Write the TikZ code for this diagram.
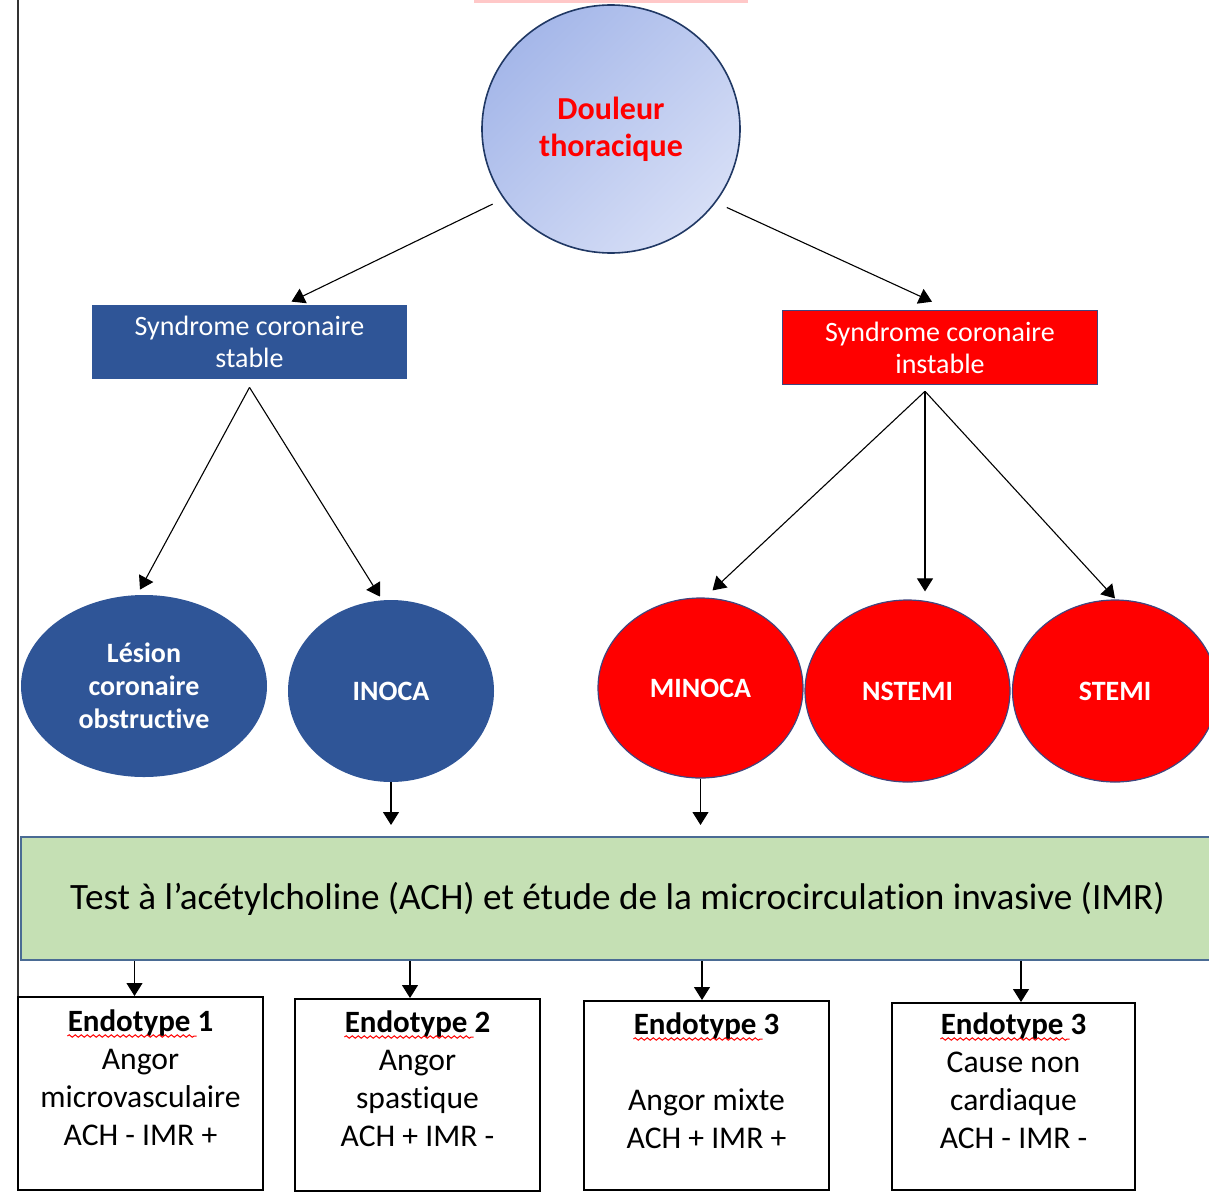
\documentclass[tikz,border=0pt]{standalone}
\usepackage{fontspec}
\setmainfont{Carlito}[Ligatures=NoCommon]
\usetikzlibrary{arrows.meta,positioning,shapes.geometric,decorations.pathmorphing}
\definecolor{sblue}{HTML}{2F5597}
\definecolor{sred}{HTML}{FF0000}
\definecolor{sgreen}{HTML}{C5E0B4}
\definecolor{sgreenline}{HTML}{4A6B94}
\definecolor{circline}{HTML}{203864}
\definecolor{redline}{HTML}{40457E}
\definecolor{lightblue}{HTML}{A5B7E9}
\definecolor{paleblue}{HTML}{D6DEF6}
\definecolor{pinkline}{HTML}{FFC8C8}

\begin{document}
\begin{tikzpicture}[x=0.5pt,y=-0.5pt,
  arr/.style={line width=0.55pt,-{Triangle[width=8pt,length=6.5pt]}},
  circ/.style={shape=ellipse,inner sep=0pt,align=center,text=white,font=\fontsize{14}{16.5}\selectfont\bfseries},
  synbox/.style={minimum width=157.5pt,minimum height=37pt,inner sep=0pt,align=center,text=white,font=\fontsize{14}{16}\selectfont},
  endobox/.style={draw=black,line width=1pt,minimum width=122.5pt,inner sep=0pt},
  endotitle/.style={anchor=base,inner sep=0pt,font=\fontsize{15.5}{19}\selectfont\bfseries},
  endotext/.style={inner sep=0pt,align=center,font=\fontsize{15.8}{19}\selectfont},
  wavy/.style={draw=red,line width=0.5pt,decorate,decoration={snake,amplitude=0.6pt,segment length=3pt}}]
\useasboundingbox (0,0) rectangle (1209,1194);
\draw[line width=0.75pt,black!80] (18,0) -- (18,997);
\draw[line width=2.5pt,pinkline] (474,0) -- (748,0);

\node[shape=ellipse,draw=circline,line width=0.8pt,shading=axis,top color=lightblue,bottom color=paleblue,shading angle=45,minimum width=129pt,minimum height=124pt,inner sep=0pt,align=center,text=sred,font=\fontsize{16}{18.5}\selectfont\bfseries] (douleur) at (611,129) {Douleur\\thoracique};

\node[synbox,fill=sblue] (stable) at (249.5,342) {Syndrome coronaire\\stable};
\node[synbox,fill=sred,draw=redline,line width=0.8pt] (instable) at (940,347.5) {Syndrome coronaire\\instable};

\node[circ,fill=sblue,minimum width=123pt,minimum height=91pt] (lesion) at (144,686) {Lésion\\coronaire\\obstructive};
\node[circ,fill=sblue,minimum width=103pt,minimum height=91pt] (inoca) at (391,691) {INOCA};
\node[circ,fill=sred,draw=redline,line width=0.6pt,minimum width=102.5pt,minimum height=90pt] (minoca) at (700.5,688) {MINOCA};
\node[circ,fill=sred,draw=redline,line width=0.6pt,minimum width=102.5pt,minimum height=91pt] (nstemi) at (907.5,691) {NSTEMI};
\node[circ,fill=sred,draw=redline,line width=0.6pt,minimum width=102.5pt,minimum height=91pt] (stemi) at (1115,691) {STEMI};

\node[fill=sgreen,draw=sgreenline,line width=1pt,minimum width=596.5pt,minimum height=61.5pt,inner sep=0pt,font=\fontsize{18.6}{22}\selectfont] (test) at (617.5,898.5) {Test à l’acétylcholine (ACH) et étude de la microcirculation invasive (IMR)};

\draw[arr,shorten <=6pt] (douleur.213) -- ([xshift=21pt,yshift=1.5pt]stable.north);
\draw[arr,shorten <=6pt] (douleur.325) -- ([xshift=-4pt,yshift=4pt]instable.north);
\draw[arr] ([yshift=-4pt]stable.south) -- ([xshift=-2pt,yshift=2.5pt]lesion.north);
\draw[arr] ([yshift=-4pt]stable.south) -- ([xshift=-5.5pt,yshift=1.5pt]inoca.north);
\draw[arr] ([xshift=-7.5pt,yshift=-3pt]instable.south) -- ([xshift=6pt,yshift=3.5pt]minoca.north);
\draw[arr] ([xshift=-7.5pt,yshift=-3pt]instable.south) -- ([xshift=8.75pt,yshift=4pt]nstemi.north);
\draw[arr] ([xshift=-7.5pt,yshift=-3pt]instable.south) -- ([yshift=0.5pt]stemi.north);
\draw[arr] (inoca.south) -- ([yshift=5.5pt]inoca.south |- test.north);
\draw[arr] (minoca.south) -- ([yshift=5.5pt]minoca.south |- test.north);

\node[endobox,minimum height=96.5pt] (e1) at (140.5,1093.5) {};
\node[endobox,minimum height=96pt] (e2) at (417.5,1095) {};
\node[endobox,minimum height=94.5pt] (e3) at (706.5,1095.5) {};
\node[endobox,minimum width=121.5pt,minimum height=93.5pt] (e4) at (1013.5,1096.5) {};

\node[endotitle] (t1) at ([yshift=-17.5pt]e1.north) {Endotype 1};
\node[endotext,below=5.7pt of t1.base] (b1) {\strut Angor\\microvasculaire\\ACH - IMR +};
\node[endotitle] (t2) at ([yshift=-17pt]e2.north) {Endotype 2};
\node[endotext,below=5.7pt of t2.base] (b2) {\strut Angor\\spastique\\ACH + IMR -};
\node[endotitle] (t3) at ([yshift=-17pt]e3.north) {Endotype 3};
\node[endotext,below=5.7pt of t3.base] (b3) {\strut\\Angor mixte\\ACH + IMR +};
\node[endotitle] (t4) at ([yshift=-16pt]e4.north) {Endotype 3};
\node[endotext,below=5.7pt of t4.base] (b4) {\strut Cause non\\cardiaque\\ACH - IMR -};

\draw[wavy] ([yshift=-2.5pt]t1.base west) -- ([xshift=-8.5pt,yshift=-2.5pt]t1.base east);
\draw[wavy] ([yshift=-2.5pt]t2.base west) -- ([xshift=-8.5pt,yshift=-2.5pt]t2.base east);
\draw[wavy] ([yshift=-2.5pt]t3.base west) -- ([xshift=-8.5pt,yshift=-2.5pt]t3.base east);
\draw[wavy] ([yshift=-2.5pt]t4.base west) -- ([xshift=-8.5pt,yshift=-2.5pt]t4.base east);

\draw[arr] ([xshift=-3pt]e1.north |- test.south) -- ([xshift=-3pt]e1.north);
\draw[arr] ([xshift=-3.75pt]e2.north |- test.south) -- ([xshift=-3.75pt]e2.north);
\draw[arr] ([xshift=-2.25pt]e3.north |- test.south) -- ([xshift=-2.25pt]e3.north);
\draw[arr] ([xshift=3.75pt]e4.north |- test.south) -- ([xshift=3.75pt]e4.north);
\end{tikzpicture}
\end{document}
